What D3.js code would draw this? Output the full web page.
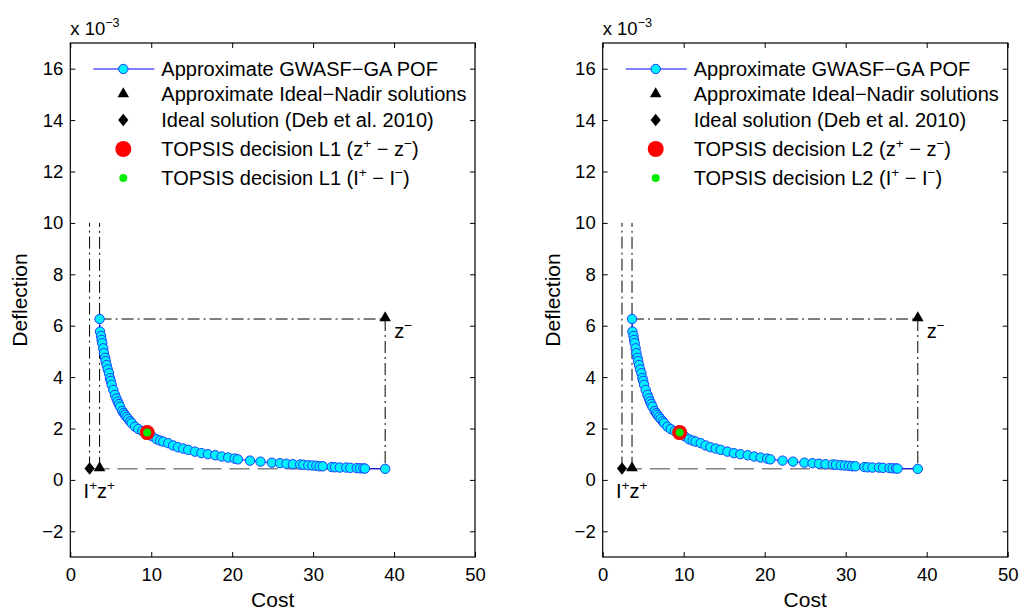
<!DOCTYPE html>
<meta charset="utf-8">
<style>
    body {
        margin: 0;
        background: #fff;
    }

    svg text {
        font-family: "Liberation Sans", Arial, Helvetica, sans-serif;
        fill: #000;
    }

    .tick line {
        stroke: #000;
    }
</style>

<body>
    <script src="https://cdn.jsdelivr.net/npm/d3@7/dist/d3.min.js"></script>

    <script>

        // approximate Pareto front (cost, deflection x 1e-3)
        var pofCost = [3.62, 3.67, 3.80, 3.87, 3.95, 4.07, 4.16, 4.30, 4.37, 4.49, 4.62, 4.78, 4.90, 5.00,
            5.11, 5.31, 5.52, 5.70, 5.85, 6.00, 6.14, 6.42, 6.60, 6.75, 6.95, 7.16, 7.40, 7.58, 7.99, 8.40,
            8.90, 9.50, 10.1, 10.67, 11.1, 11.48, 12.1, 12.7, 13.3, 13.95, 14.57, 15.4, 16.2, 17.0, 17.9,
            18.7, 19.5, 20.3, 20.7, 22.2, 23.5, 24.9, 25.9, 26.7, 27.5, 28.4, 28.8, 29.4, 29.9, 30.4,
            30.8, 31.2, 32.3, 32.7, 33.3, 34.1, 34.6, 35.4, 35.8, 36.2, 36.4, 38.9];
        var pofDefl = [6.26, 5.77, 5.60, 5.45, 5.32, 5.12, 4.93, 4.75, 4.62, 4.47, 4.30, 4.15, 3.96, 3.85,
            3.70, 3.50, 3.31, 3.17, 3.05, 2.95, 2.85, 2.68, 2.60, 2.53, 2.45, 2.37, 2.28, 2.21, 2.07, 1.98,
            1.90, 1.84, 1.70, 1.58, 1.53, 1.49, 1.43, 1.34, 1.27, 1.22, 1.17, 1.10, 1.04, 1.00, 0.96,
            0.91, 0.87, 0.83, 0.80, 0.75, 0.71, 0.67, 0.65, 0.63, 0.61, 0.60, 0.59, 0.57, 0.56, 0.55,
            0.53, 0.53, 0.50, 0.49, 0.48, 0.48, 0.47, 0.46, 0.45, 0.45, 0.44, 0.43];

        var zPlus = [3.62, 0.43];     // approximate ideal
        var zMinus = [38.9, 6.26];    // approximate nadir
        var iPlus = [2.38, 0.44];     // Deb et al. 2010 ideal
        var topsis = [9.5, 1.84];
        var guideTop = 10;            // vertical guides end here

        var xTicks = [0, 10, 20, 30, 40, 50];
        var yTicks = [-2, 0, 2, 4, 6, 8, 10, 12, 14, 16];
        var panelNames = ["L1", "L2"];

        var width = 1022, height = 612;
        var panels = [{ left: 70.3, right: 475 }, { left: 602.7, right: 1007.7 }];
        var plotTop = 43, plotBottom = 557;

        var svg = d3.select("body").append("svg")
            .attr("width", width)
            .attr("height", height);

        var dashDot = "12,4,2,4";
        var cyan = "#00f0ff", edge = "#1a3cff";

        // write text with superscripts: parts = [[str, isSup], ...]
        function richText(sel, parts, size) {
            var up = 0;
            parts.forEach(function (p) {
                var t = sel.append("tspan").text(p[0]);
                if (p[1]) {
                    t.attr("font-size", size * 0.68).attr("dy", -size * 0.42);
                    up = size * 0.42;
                } else {
                    t.attr("dy", up);
                    up = 0;
                }
            });
        }

        var tri = d3.symbol().type(d3.symbolTriangle).size(58);
        var sq = d3.symbol().type(d3.symbolSquare).size(64);
        function diamondAt(sel, px, py) {
            return sel.append("path").attr("d", sq)
                .attr("transform", "translate(" + px + "," + py + ") scale(0.9,1.1) rotate(45)");
        }

        panels.forEach(function (pn, k) {
            var x = d3.scaleLinear().domain([0, 50]).range([pn.left, pn.right]);
            var y = d3.scaleLinear().domain([-3, 17]).range([plotBottom, plotTop]);
            var g = svg.append("g");

            // axes, ticks inside on all sides
            var ax = [
                [d3.axisBottom(x).tickValues(xTicks).tickSize(-5).tickPadding(11), "translate(0," + plotBottom + ")"],
                [d3.axisTop(x).tickValues(xTicks).tickSize(-5).tickFormat(""), "translate(0," + plotTop + ")"],
                [d3.axisLeft(y).tickValues(yTicks).tickSize(-5).tickPadding(7), "translate(" + pn.left + ",0)"],
                [d3.axisRight(y).tickValues(yTicks).tickSize(-5).tickFormat(""), "translate(" + pn.right + ",0)"]
            ];
            ax.forEach(function (a) {
                var ag = g.append("g").attr("transform", a[1]).call(a[0]);
                ag.select(".domain").remove();
                ag.attr("font-family", null).attr("font-size", null);
                ag.selectAll("text").attr("font-size", 18.5);
            });

            g.append("rect")
                .attr("x", pn.left).attr("y", plotTop)
                .attr("width", pn.right - pn.left).attr("height", plotBottom - plotTop)
                .attr("fill", "none").attr("stroke", "#000").attr("stroke-width", 1.2);

            // axis titles
            g.append("text")
                .attr("x", (pn.left + pn.right) / 2).attr("y", 607)
                .attr("text-anchor", "middle").attr("font-size", 21)
                .text("Cost");
            g.append("text")
                .attr("transform", "translate(" + (pn.left - 43) + "," + ((plotTop + plotBottom) / 2) + ") rotate(-90)")
                .attr("text-anchor", "middle").attr("font-size", 21)
                .text("Deflection");
            richText(g.append("text").attr("x", pn.left).attr("y", 35).attr("font-size", 18.5),
                [["x 10", false], ["\u22123", true]], 18.5);

            // guide lines
            var guides = g.append("g").attr("fill", "none").attr("stroke", "#000").attr("stroke-width", 1);
            guides.append("line")
                .attr("x1", x(iPlus[0])).attr("x2", x(iPlus[0]))
                .attr("y1", y(iPlus[1])).attr("y2", y(guideTop))
                .attr("stroke-dasharray", dashDot);
            guides.append("line")
                .attr("x1", x(zPlus[0])).attr("x2", x(zPlus[0]))
                .attr("y1", y(zPlus[1])).attr("y2", y(guideTop))
                .attr("stroke-dasharray", dashDot);
            guides.append("line")
                .attr("x1", x(iPlus[0])).attr("x2", x(zMinus[0]))
                .attr("y1", y(zPlus[1])).attr("y2", y(zPlus[1]))
                .attr("stroke", "#444")
                .attr("stroke-dasharray", "20,8");
            guides.append("line")
                .attr("x1", x(zPlus[0])).attr("x2", x(zMinus[0]))
                .attr("y1", y(zMinus[1])).attr("y2", y(zMinus[1]))
                .attr("stroke-dasharray", dashDot);
            guides.append("line")
                .attr("x1", x(zMinus[0])).attr("x2", x(zMinus[0]))
                .attr("y1", y(zMinus[1])).attr("y2", y(zPlus[1]))
                .attr("stroke-dasharray", dashDot);

            // Pareto front
            var pts = pofCost.map(function (c, i) { return [c, pofDefl[i]]; });
            g.append("path")
                .datum(pts)
                .attr("fill", "none").attr("stroke", "#0000ff").attr("stroke-width", 1)
                .attr("d", d3.line().x(function (d) { return x(d[0]); }).y(function (d) { return y(d[1]); }));
            g.selectAll("circle.pof").data(pts).enter().append("circle")
                .attr("class", "pof")
                .attr("cx", function (d) { return x(d[0]); })
                .attr("cy", function (d) { return y(d[1]); })
                .attr("r", 4.7)
                .attr("fill", cyan).attr("stroke", edge).attr("stroke-width", 1);

            [zPlus, zMinus].forEach(function (p) {
                g.append("path").attr("d", tri)
                    .attr("transform", "translate(" + x(p[0]) + "," + (y(p[1]) - 1) + ")");
            });
            diamondAt(g, x(iPlus[0]), y(iPlus[1]));

            // TOPSIS choice
            g.append("circle").attr("cx", x(topsis[0])).attr("cy", y(topsis[1]))
                .attr("r", 7.5).attr("fill", "#ff0000");
            g.append("circle").attr("cx", x(topsis[0])).attr("cy", y(topsis[1]))
                .attr("r", 4).attr("fill", "#00ee00");

            // point labels
            richText(g.append("text").attr("x", x(iPlus[0]) - 6).attr("y", 498).attr("font-size", 20),
                [["I", false], ["+", true], ["z", false], ["+", true]], 20);
            richText(g.append("text").attr("x", x(zMinus[0]) + 9).attr("y", y(zMinus[1]) + 19).attr("font-size", 20),
                [["z", false], ["\u2212", true]], 20);

            // legend
            var tag = panelNames[k];
            var lx = pn.left + 53, tx = pn.left + 91;
            var rows = [26, 51, 77, 106, 135];
            var leg = g.append("g");
            leg.append("line").attr("x1", lx - 30).attr("x2", lx + 31)
                .attr("y1", plotTop + rows[0]).attr("y2", plotTop + rows[0])
                .attr("stroke", "#0000ff").attr("stroke-width", 1);
            leg.append("circle").attr("cx", lx).attr("cy", plotTop + rows[0]).attr("r", 4.7)
                .attr("fill", cyan).attr("stroke", edge);
            leg.append("path").attr("d", tri).attr("transform", "translate(" + lx + "," + (plotTop + rows[1]) + ")");
            diamondAt(leg, lx, plotTop + rows[2]);
            leg.append("circle").attr("cx", lx).attr("cy", plotTop + rows[3]).attr("r", 8).attr("fill", "#ff0000");
            leg.append("circle").attr("cx", lx).attr("cy", plotTop + rows[4]).attr("r", 4).attr("fill", "#00ee00");

            var labels = [
                [["Approximate GWASF\u2212GA POF", false]],
                [["Approximate Ideal\u2212Nadir solutions", false]],
                [["Ideal solution (Deb et al. 2010)", false]],
                [["TOPSIS decision " + tag + " (z", false], ["+", true], [" \u2212 z", false], ["\u2212", true], [")", false]],
                [["TOPSIS decision " + tag + " (I", false], ["+", true], [" \u2212 I", false], ["\u2212", true], [")", false]]
            ];
            labels.forEach(function (parts, i) {
                richText(leg.append("text").attr("x", tx).attr("y", plotTop + rows[i] + 7).attr("font-size", 20),
                    parts, 20);
            });
        });

    </script>

</body>

</html>
